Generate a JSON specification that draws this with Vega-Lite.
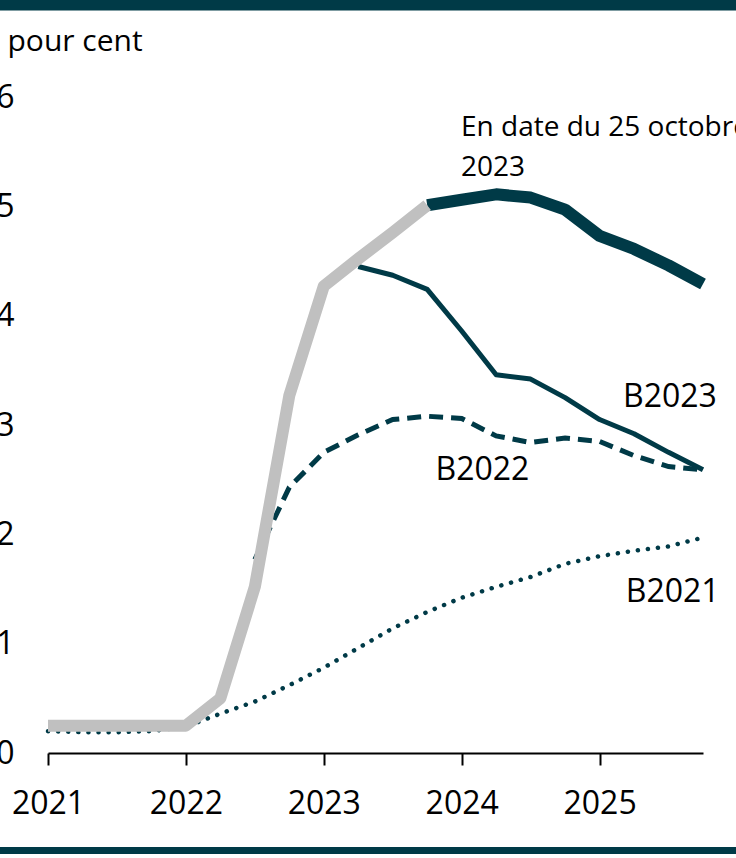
{
  "$schema": "https://vega.github.io/schema/vega-lite/v6.json",
  "autosize": "none",
  "width": 655,
  "height": 656,
  "padding": {"left": 48, "top": 97, "right": 33, "bottom": 105},
  "background": "white",
  "config": {"view": {"stroke": null}, "font": "Open Sans"},
  "datasets": {
    "rates": [
      {"t": 2021.0, "s": "hist", "v": 0.25},
      {"t": 2021.25, "s": "hist", "v": 0.25},
      {"t": 2021.5, "s": "hist", "v": 0.25},
      {"t": 2021.75, "s": "hist", "v": 0.25},
      {"t": 2022.0, "s": "hist", "v": 0.25},
      {"t": 2022.25, "s": "hist", "v": 0.5},
      {"t": 2022.5, "s": "hist", "v": 1.52},
      {"t": 2022.75, "s": "hist", "v": 3.27},
      {"t": 2023.0, "s": "hist", "v": 4.27},
      {"t": 2023.25, "s": "hist", "v": 4.52},
      {"t": 2023.5, "s": "hist", "v": 4.76},
      {"t": 2023.75, "s": "hist", "v": 5.01},
      {"t": 2023.75, "s": "oct", "v": 5.01},
      {"t": 2024.0, "s": "oct", "v": 5.06},
      {"t": 2024.25, "s": "oct", "v": 5.11},
      {"t": 2024.5, "s": "oct", "v": 5.08},
      {"t": 2024.75, "s": "oct", "v": 4.97},
      {"t": 2025.0, "s": "oct", "v": 4.73},
      {"t": 2025.25, "s": "oct", "v": 4.61},
      {"t": 2025.5, "s": "oct", "v": 4.46},
      {"t": 2025.75, "s": "oct", "v": 4.29},
      {"t": 2023.25, "s": "B2023", "v": 4.45},
      {"t": 2023.5, "s": "B2023", "v": 4.37},
      {"t": 2023.75, "s": "B2023", "v": 4.24},
      {"t": 2024.0, "s": "B2023", "v": 3.86},
      {"t": 2024.25, "s": "B2023", "v": 3.46},
      {"t": 2024.5, "s": "B2023", "v": 3.42},
      {"t": 2024.75, "s": "B2023", "v": 3.25},
      {"t": 2025.0, "s": "B2023", "v": 3.05},
      {"t": 2025.25, "s": "B2023", "v": 2.92},
      {"t": 2025.5, "s": "B2023", "v": 2.75},
      {"t": 2025.75, "s": "B2023", "v": 2.59},
      {"t": 2022.5, "s": "B2022", "v": 1.77},
      {"t": 2022.75, "s": "B2022", "v": 2.43},
      {"t": 2023.0, "s": "B2022", "v": 2.75},
      {"t": 2023.25, "s": "B2022", "v": 2.91},
      {"t": 2023.5, "s": "B2022", "v": 3.05},
      {"t": 2023.75, "s": "B2022", "v": 3.08},
      {"t": 2024.0, "s": "B2022", "v": 3.06},
      {"t": 2024.25, "s": "B2022", "v": 2.9},
      {"t": 2024.5, "s": "B2022", "v": 2.84},
      {"t": 2024.75, "s": "B2022", "v": 2.88},
      {"t": 2025.0, "s": "B2022", "v": 2.85},
      {"t": 2025.25, "s": "B2022", "v": 2.72},
      {"t": 2025.5, "s": "B2022", "v": 2.62},
      {"t": 2025.75, "s": "B2022", "v": 2.59},
      {"t": 2021.0, "s": "B2021", "v": 0.2},
      {"t": 2021.25, "s": "B2021", "v": 0.19},
      {"t": 2021.5, "s": "B2021", "v": 0.19},
      {"t": 2021.75, "s": "B2021", "v": 0.2},
      {"t": 2022.0, "s": "B2021", "v": 0.24},
      {"t": 2022.25, "s": "B2021", "v": 0.36},
      {"t": 2022.5, "s": "B2021", "v": 0.47},
      {"t": 2022.75, "s": "B2021", "v": 0.62},
      {"t": 2023.0, "s": "B2021", "v": 0.78},
      {"t": 2023.25, "s": "B2021", "v": 0.96},
      {"t": 2023.5, "s": "B2021", "v": 1.14},
      {"t": 2023.75, "s": "B2021", "v": 1.29},
      {"t": 2024.0, "s": "B2021", "v": 1.42},
      {"t": 2024.25, "s": "B2021", "v": 1.52},
      {"t": 2024.5, "s": "B2021", "v": 1.61},
      {"t": 2024.75, "s": "B2021", "v": 1.73},
      {"t": 2025.0, "s": "B2021", "v": 1.8},
      {"t": 2025.25, "s": "B2021", "v": 1.85},
      {"t": 2025.5, "s": "B2021", "v": 1.89},
      {"t": 2025.75, "s": "B2021", "v": 1.97}
    ],
    "labels": [
      {"t": 2025.17, "v": 3.165, "label": "B2023", "size": "big"},
      {"t": 2023.81, "v": 2.497, "label": "B2022", "size": "big"},
      {"t": 2025.19, "v": 1.381, "label": "B2021", "size": "big"},
      {"t": 2023.995, "v": 5.643, "label": "En date du 25 octobre\n2023", "size": "small"}
    ],
    "bars": [
      {"t0": 2020.6, "t1": 2026.05, "v": 6.842, "pos": "top"},
      {"t0": 2020.6, "t1": 2026.05, "v": -0.892, "pos": "bottom"}
    ]
  },
  "encoding": {
    "x": {
      "field": "t", "type": "quantitative",
      "scale": {"domain": [2021, 2025.75], "nice": false, "zero": false},
      "axis": {
        "title": null, "values": [2021, 2022, 2023, 2024, 2025], "format": "d",
        "grid": false, "domainColor": "#000000", "domainWidth": 2,
        "tickColor": "#000000", "tickWidth": 2, "tickSize": 12,
        "labelFontSize": 32, "labelColor": "#000000", "labelPadding": 23,
        "labelFont": "Open Sans", "labelFlush": false, "labelOverlap": false
      }
    },
    "y": {
      "field": "v", "type": "quantitative",
      "scale": {"domain": [0, 6], "nice": false},
      "axis": {
        "title": "pour cent", "titleAngle": 0, "titleAlign": "left",
        "titleBaseline": "alphabetic", "titleX": -41, "titleY": -47,
        "titleFontSize": 30, "titleFontWeight": "normal", "titleColor": "#000000",
        "titleFont": "Open Sans",
        "values": [0, 1, 2, 3, 4, 5, 6], "grid": false, "domain": false, "ticks": false,
        "labelFontSize": 32, "labelColor": "#000000", "labelPadding": 34,
        "labelFont": "Open Sans", "labelFlush": false, "labelOverlap": false
      }
    }
  },
  "layer": [
    {
      "data": {"name": "rates"},
      "transform": [{"filter": "datum.s === 'B2021'"}],
      "mark": {"type": "line", "color": "#003a47", "strokeWidth": 4.5, "strokeCap": "round", "strokeDash": [0.1, 10]}
    },
    {
      "data": {"name": "rates"},
      "transform": [{"filter": "datum.s === 'B2022'"}],
      "mark": {"type": "line", "color": "#003a47", "strokeWidth": 5, "strokeDash": [14, 8]}
    },
    {
      "data": {"name": "rates"},
      "transform": [{"filter": "datum.s === 'B2023'"}],
      "mark": {"type": "line", "color": "#003a47", "strokeWidth": 5, "strokeJoin": "round"}
    },
    {
      "data": {"name": "rates"},
      "transform": [{"filter": "datum.s === 'oct'"}],
      "mark": {"type": "line", "color": "#003a47", "strokeWidth": 12, "strokeJoin": "round"}
    },
    {
      "data": {"name": "rates"},
      "transform": [{"filter": "datum.s === 'hist'"}],
      "mark": {"type": "line", "color": "#c0c0c0", "strokeWidth": 12, "strokeJoin": "round"}
    },
    {
      "data": {"name": "labels"},
      "transform": [{"filter": "datum.size === 'big'"}],
      "mark": {"type": "text", "align": "left", "baseline": "alphabetic", "fontSize": 32, "color": "#000000", "font": "Open Sans"},
      "encoding": {"text": {"field": "label"}}
    },
    {
      "data": {"name": "labels"},
      "transform": [{"filter": "datum.size === 'small'"}],
      "mark": {"type": "text", "align": "left", "baseline": "alphabetic", "fontSize": 28, "lineHeight": 40, "lineBreak": "\n", "color": "#000000", "font": "Open Sans", "clip": false},
      "encoding": {"text": {"field": "label"}}
    },
    {
      "data": {"name": "bars"},
      "transform": [{"filter": "datum.pos === 'top'"}],
      "mark": {"type": "rule", "color": "#003a47", "strokeWidth": 11, "clip": false},
      "encoding": {
        "x": {"field": "t0", "type": "quantitative"},
        "x2": {"field": "t1"},
        "y": {"field": "v", "type": "quantitative"}
      }
    },
    {
      "data": {"name": "bars"},
      "transform": [{"filter": "datum.pos === 'bottom'"}],
      "mark": {"type": "rule", "color": "#003a47", "strokeWidth": 7, "clip": false},
      "encoding": {
        "x": {"field": "t0", "type": "quantitative"},
        "x2": {"field": "t1"},
        "y": {"field": "v", "type": "quantitative"}
      }
    }
  ]
}
